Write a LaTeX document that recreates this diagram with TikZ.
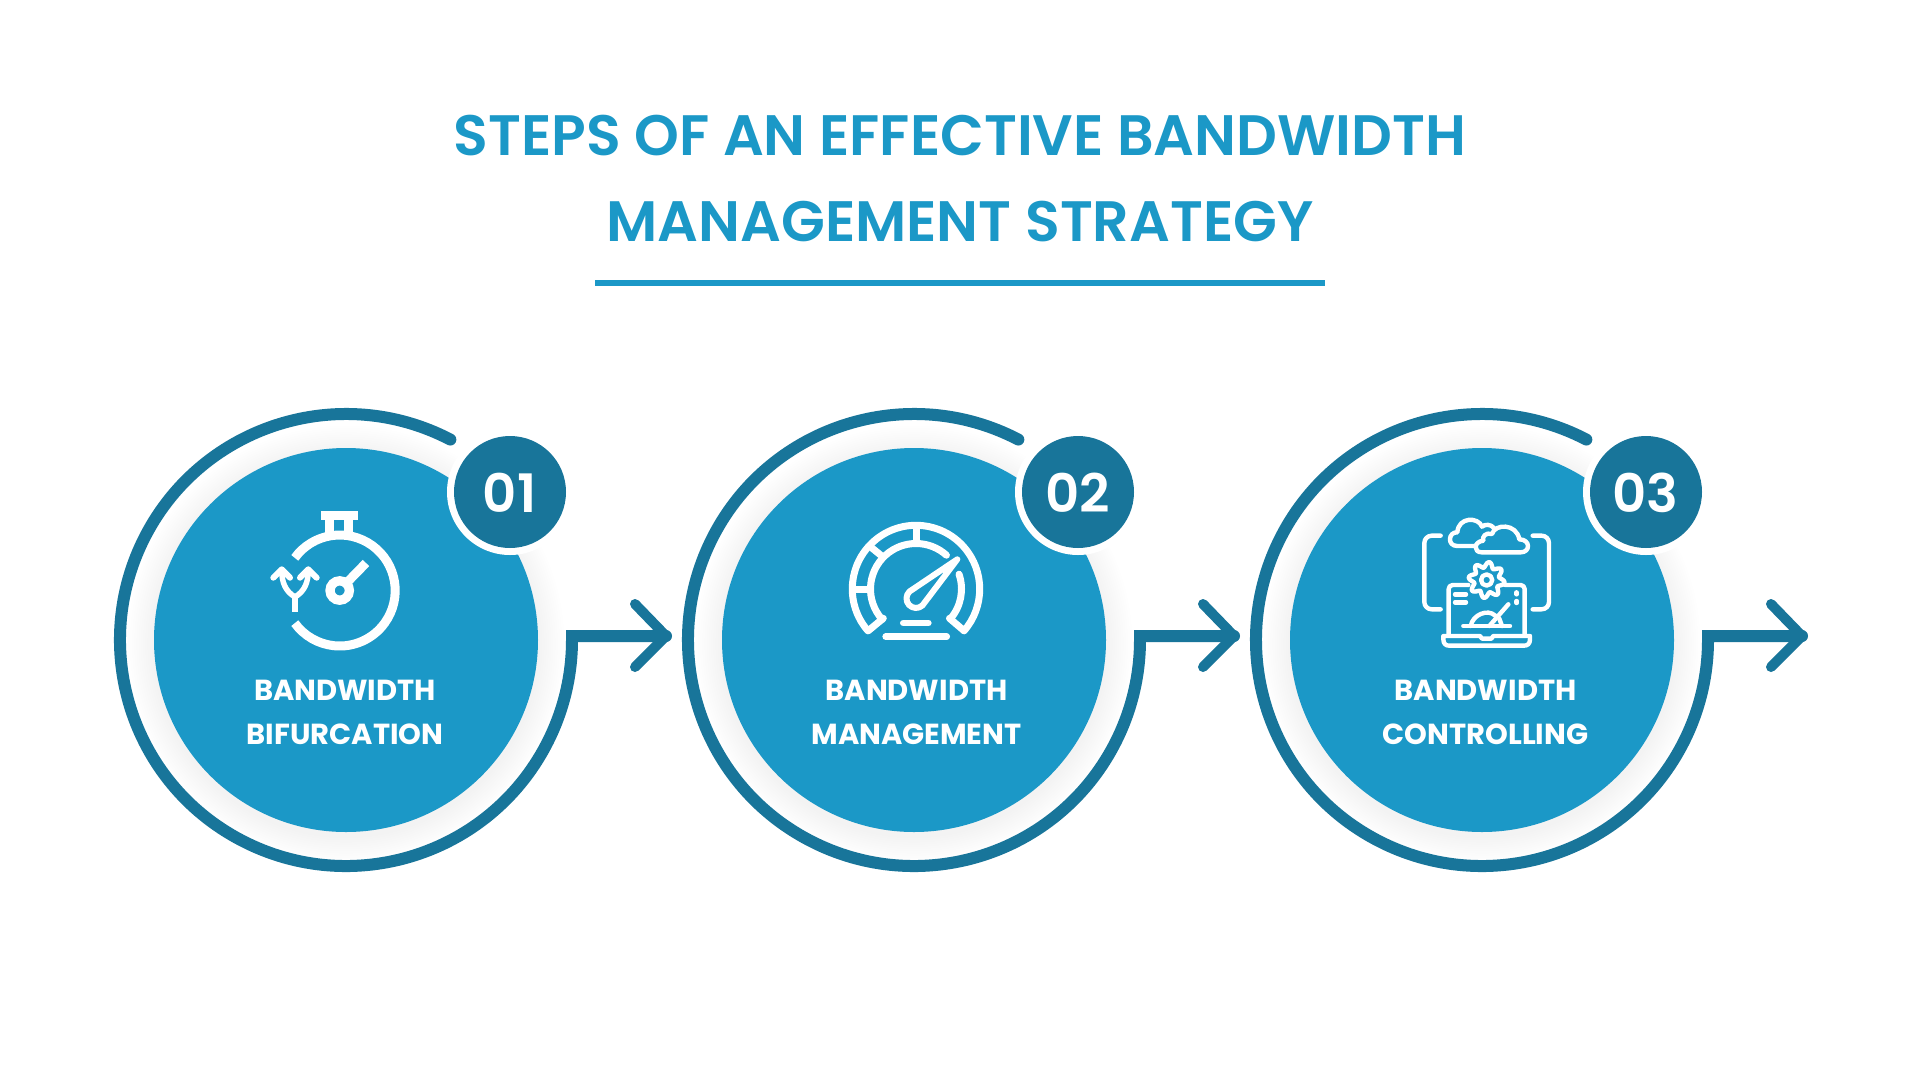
\documentclass[tikz,border=0pt]{standalone}
\usepackage{fontspec}
\setmainfont{Poppins}[UprightFont=* SemiBold,BoldFont=* Bold]
\usetikzlibrary{calc}
\definecolor{ringc}{HTML}{18759A}
\definecolor{fillc}{HTML}{1B98C7}
\tikzset{
 x=1pt,y=-1pt,
 ringline/.style={draw=ringc,line width=12pt,miter limit=10},
 tipline/.style={draw=ringc,line width=10pt,line cap=round,line join=round},
 ico/.style={draw=white,line width=#1,line cap=round,line join=round},
 icob/.style={draw=white,line width=#1},
 lab/.style={text=white,font=\fontsize{29}{29}\selectfont\bfseries,align=center,inner sep=0pt,anchor=center},
 numtxt/.style={text=white,font=\fontsize{53}{53}\selectfont,inner sep=0pt,anchor=center},
 titletxt/.style={text=fillc,font=\fontsize{57}{57}\selectfont,inner sep=0pt,anchor=center},
}
\newcommand{\stepunit}[6]{%
 % #1 x-shift #2 first label #3 second label #4 number #5 name #6 label offset
 \begin{scope}[shift={(#1,0)}]
  \foreach \k in {1,...,12}{\fill[black,opacity=0.005] (0,644) circle[radius={192pt+\k*2.2pt}];}
  \coordinate (ringstart#5) at ($(0,640)+(62.5:226pt)$);
  \coordinate (corner#5) at (226,636);
  \coordinate (tip#5) at (320,636);
  \draw[ringline,line cap=round] (ringstart#5) arc[start angle=62.5,end angle=360,radius=226pt] -- (corner#5) -- (tip#5);
  \draw[tipline] (289,604) -- (tip#5) -- (289,667);
  \node[circle,fill=fillc,minimum size=384pt,inner sep=0pt] (disc#5) at (0,640) {};
  \node[circle,fill=white,minimum size=126pt,inner sep=0pt] (halo#5) at (164,492) {};
  \node[circle,fill=ringc,minimum size=112pt,inner sep=0pt] (badge#5) at (164,492) {};
  \node[numtxt] (num#5) at (163.5,492.5) {#4};
  \node[lab] (la#5) at (#6,690) {#2};
  \node[lab] (lb#5) at (#6,734) {#3};
 \end{scope}}
\begin{document}
\begin{tikzpicture}
\useasboundingbox (0,0) rectangle (1920,1080);
\fill[white] (0,0) rectangle (1920,1080);
\node[titletxt] (t1) at (960,136) {STEPS OF AN EFFECTIVE BANDWIDTH};
\node[titletxt] (t2) at (960,222) {MANAGEMENT STRATEGY};
\coordinate (ul) at (595,283);
\coordinate (ur) at (1325,283);
\draw[draw=fillc,line width=6pt] (ul) -- (ur);
\stepunit{346}{BANDWIDTH}{BIFURCATION}{01}{A}{-1}
\stepunit{914}{BANDWIDTH}{MANAGEMENT}{02}{B}{2.5}
\stepunit{1482}{BANDWIDTH}{CONTROLLING}{03}{C}{3.5}
% icon 1
\fill[white] (320.7,511) rectangle (358,520);
\draw[icob=9pt] (329.5,520) -- (329.5,533);
\draw[icob=9pt] (348.8,520) -- (348.8,533);
\draw[icob=9pt] ($(339.7,590.5)+(144:55.5pt)$) arc[start angle=144,end angle=-144,radius=55.5pt];
\draw[icob=9.3pt] (339.7,590.5) circle[radius=9.7pt];
\draw[icob=9pt] (346,583.5) -- (366,563);
\draw[icob=6pt] (295,596.7) -- (295,612);
\draw[ico=5.5pt] (295,597) .. controls (285,591) and (282,582) .. (281.7,571);
\draw[ico=5.5pt] (295,597) .. controls (305,591) and (308,582) .. (308.3,571);
\draw[ico=6pt] (273.3,577.7) -- (281.7,569.3) -- (290,577.7);
\draw[ico=6pt] (300,577.7) -- (308.3,569.3) -- (316.7,577.7);
% icon 2
\draw[ico=7pt] ($(916,589)+(221:63.7pt)$) arc[start angle=221,end angle=-41,radius=63.7pt];
\draw[ico=7pt] (868.3,630.7) -- (883.3,618.3);
\draw[ico=7pt] (964,630.7) -- (949.5,618.3);
\draw[ico=7pt] ($(916,589)+(222:45.5pt)$) arc[start angle=222,end angle=48,radius=45.5pt];
\draw[ico=7pt] ($(916,589)+(19:45.5pt)$) arc[start angle=19,end angle=-41,radius=45.5pt];
\draw[ico=7pt] (916,526) -- (916,543);
\draw[ico=7pt] (872,548) -- (883,557);
\draw[ico=7pt] (854,589) -- (870,589);
\draw[ico=6pt] (957.3,559.3) -- (909.5,591.5) arc[start angle=133,end angle=313,radius=9.5pt] -- cycle;
\draw[ico=6.7pt] (903.3,623) -- (928.3,623);
\draw[ico=6.7pt] (885.7,636.7) -- (946.7,636.7);
% icon 3
\begin{scope}[shift={(1400,500)},x=0.3333pt,y=-0.3333pt]
 \tikzset{ic3/.style={draw=white,line width=4.4pt,line cap=round,line join=round}}
 \draw[ic3] (122,107) -- (95,107) arc[start angle=90,end angle=180,radius=7.3pt] -- (73,306) arc[start angle=180,end angle=270,radius=7.3pt] -- (122,328);
 \draw[ic3] (398,107) -- (425,107) arc[start angle=90,end angle=0,radius=7.3pt] -- (447,306) arc[start angle=0,end angle=-90,radius=7.3pt] -- (398,328);
 % back cloud
 \draw[ic3] (226,138) -- (172,138) .. controls (140,138) and (145,95) .. (172,97) .. controls (175,50) and (235,50) .. (246,80) .. controls (255,72) and (272,72) .. (282,84);
 % front cloud
 \draw[ic3] (245,157) -- (362,157) .. controls (392,157) and (392,118) .. (358,118) .. controls (350,70) and (285,70) .. (276,102) .. controls (258,96) and (245,110) .. (250,122) .. controls (220,125) and (220,157) .. (245,157);
 % gear
 \draw[ic3] plot[domain=0:360,samples=121,smooth,variable=\a] ({260+(46+8*sin(8*\a+22))*cos(\a)},{240+(46+8*sin(8*\a+22))*sin(\a)}) -- cycle;
 \draw[ic3] (260,240) circle[radius=5.6pt];
 % laptop
 \draw[ic3] (205,255) -- (158,255) arc[start angle=90,end angle=180,radius=4pt] -- (146,405);
 \draw[ic3] (315,255) -- (362,255) arc[start angle=90,end angle=0,radius=4pt] -- (374,405);
 \draw[ic3] (130,408) -- (240,408) -- (246,416) -- (274,416) -- (280,408) -- (390,408) -- (390,418) .. controls (390,432) and (382,437) .. (372,437) -- (148,437) .. controls (138,437) and (130,432) .. (130,418) -- cycle;
 \draw[ic3] (165,283) -- (198,283);
 \draw[ic3] (165,307) -- (198,307);
 \draw[ic3] (350,277) -- (350,283);
 \draw[ic3] (350,303) -- (350,309);
 \draw[ic3] (190,378) -- (330,378);
 \draw[ic3] (212,378) .. controls (218,345) and (262,325) .. (286,347);
 \draw[ic3] (268,378) -- (325,313);
 \draw[ic3] (298,356) -- (306,378);
\end{scope}
\end{tikzpicture}
\end{document}
